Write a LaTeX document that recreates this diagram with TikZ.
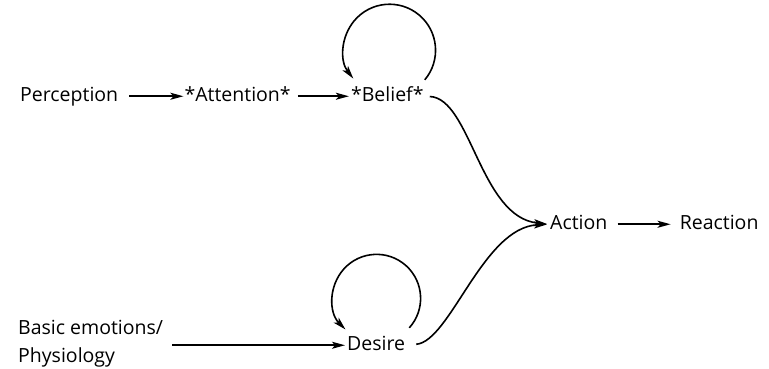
\documentclass[tikz,border=0pt]{standalone}
\usepackage{fontspec}
\setmainfont{Open Sans}
\usetikzlibrary{positioning,arrows.meta}

\begin{document}
\begin{tikzpicture}[
  x=1pt,y=1pt,
  lbl/.style={inner sep=0pt,text height=14pt,text depth=4.5pt,font=\fontsize{19.5}{23}\selectfont},
  twoline/.style={inner sep=0pt,align=left,font=\fontsize{19.5}{28}\selectfont},
  arr/.style={-{Stealth[length=13pt,width=7pt,inset=3pt]},line width=1.6pt},
  loopy/.style={arr,line width=1.6pt}
]
\useasboundingbox (0,0) rectangle (769,-368);

\node[lbl,anchor=base west] (perc) at (20,-101) {Perception};
\node[lbl,base right=66pt of perc] (att) {*Attention*};
\node[lbl,base right=60pt of att] (bel) {*Belief*};
\node[lbl,anchor=base west] (act) at (550,-229) {Action};
\node[lbl,base right=72pt of act] (react) {Reaction};
\node[lbl,anchor=base west] (des) at (347,-350) {Desire};
\node[twoline,anchor=north west] (basic) at (18,-320) {Basic emotions/\\Physiology};

% straight arrows
\draw[arr,shorten <=11pt,shorten >=1pt] (perc) -- (att);
\draw[arr,shorten <=7pt,shorten >=2pt] (att) -- (bel);
\draw[arr,shorten <=10pt,shorten >=9pt] (act) -- (react);
\draw[arr,shorten <=9pt,shorten >=2pt] (basic.east |- des.center) -- (des.west);

% loops
\draw[loopy] ([xshift=1pt,yshift=7pt]bel.north east) arc[start angle=-40,end angle=218,radius=46];
\draw[loopy] ([xshift=4pt,yshift=8pt]des.north east) arc[start angle=-42,end angle=225,radius=44];

% into action
\draw[arr,shorten <=6pt,shorten >=3pt] (bel.east) .. controls +(47,-2) and +(-70,7) .. (act.west);
\draw[arr,shorten <=11pt,shorten >=3pt] (des.east) .. controls +(45,4) and +(-67,-3) .. (act.west);
\end{tikzpicture}
\end{document}
